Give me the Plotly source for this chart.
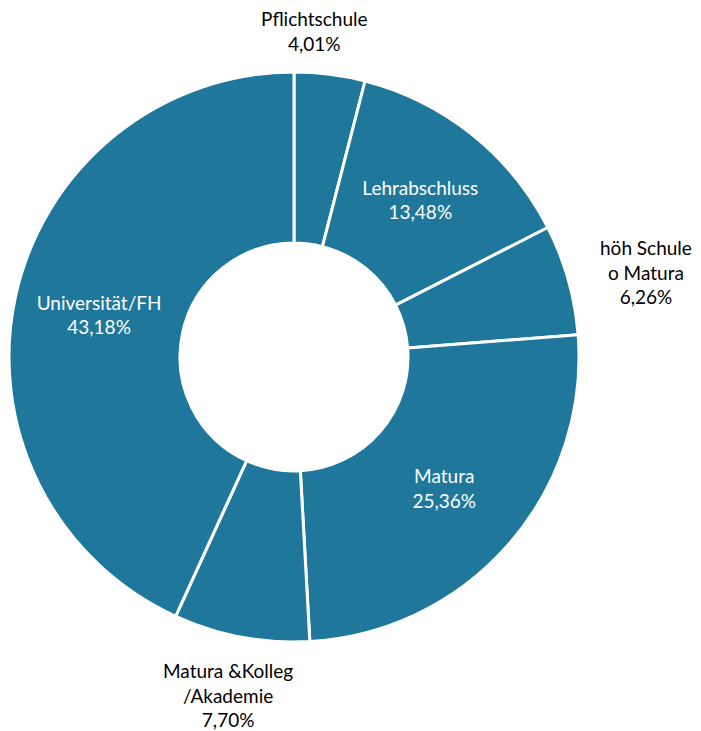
import plotly.graph_objects as go

labels = ['Pflichtschule', 'Lehrabschluss', 'höh Schule<br>o Matura', 'Matura',
          'Matura &Kolleg<br>/Akademie', 'Universität/FH']
values = [4.01, 13.48, 6.26, 25.36, 7.70, 43.18]
inside = [False, True, False, True, False, True]

# the page body keeps an 8px margin, so the figure is drawn 8px in
OFF = 8
W, H = 701 - OFF, 731 - OFF
CX, CY, R = 294 - OFF, 357 - OFF, 285

pct_text = [f"{lab}<br>{v:.2f}%".replace('.', ',') for lab, v in zip(labels, values)]

fig = go.Figure(go.Pie(
    labels=labels,
    values=values,
    text=[t if i else '' for t, i in zip(pct_text, inside)],
    textinfo='text',
    textposition=['inside' if i else 'none' for i in inside],
    insidetextorientation='horizontal',
    textfont=dict(family='Lato', size=19, color='white'),
    sort=False,
    direction='clockwise',
    rotation=0,
    hole=0.4,
    marker=dict(colors=['#1F789C'] * len(values), line=dict(color='white', width=3)),
    domain=dict(x=[(CX - R) / W, (CX + R) / W], y=[(H - CY - R) / H, (H - CY + R) / H]),
    showlegend=False,
))

# outside labels (pixel centres of the label blocks in the page)
outside_pos = {0: (314, 31), 2: (646, 272), 4: (228, 695)}
for idx, (px_, py_) in outside_pos.items():
    fig.add_annotation(
        x=(px_ - OFF) / W, y=1 - (py_ - OFF) / H, xref='paper', yref='paper',
        text=pct_text[idx], showarrow=False,
        font=dict(family='Lato', size=19, color='black'),
        xanchor='center', yanchor='middle', align='center',
    )

fig.update_layout(
    width=W, height=H,
    margin=dict(l=0, r=0, t=0, b=0),
    paper_bgcolor='white',
    uniformtext=dict(minsize=19, mode='show'),
)

fig.write_html("out.html")
